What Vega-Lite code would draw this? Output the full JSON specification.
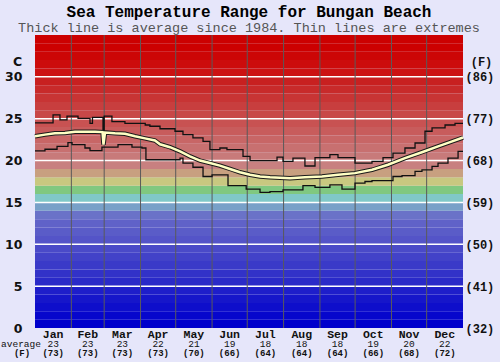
{
  "$schema": "https://vega.github.io/schema/vega-lite/v6.json",
  "width": 428,
  "height": 293,
  "autosize": "none",
  "padding": {"left": 35, "top": 35, "right": 37, "bottom": 34},
  "background": "#e6e6fa",
  "config": {"view": {"stroke": null}},
  "title": {
    "text": "Sea Temperature Range for Bungan Beach",
    "subtitle": "Thick line is average since 1984. Thin lines are extremes",
    "font": "Liberation Mono",
    "fontSize": 16,
    "fontWeight": "bold",
    "color": "#000000",
    "subtitleFont": "Liberation Mono",
    "subtitleFontSize": 13.5,
    "subtitleColor": "#555555",
    "anchor": "middle",
    "offset": 0,
    "subtitlePadding": 1
  },
  "datasets": {
    "bands": [
      {"lo": 0, "hi": 1}, {"lo": 1, "hi": 2}, {"lo": 2, "hi": 3}, {"lo": 3, "hi": 4}, {"lo": 4, "hi": 5},
      {"lo": 5, "hi": 6}, {"lo": 6, "hi": 7}, {"lo": 7, "hi": 8}, {"lo": 8, "hi": 9}, {"lo": 9, "hi": 10},
      {"lo": 10, "hi": 11}, {"lo": 11, "hi": 12}, {"lo": 12, "hi": 13}, {"lo": 13, "hi": 14}, {"lo": 14, "hi": 15},
      {"lo": 15, "hi": 16}, {"lo": 16, "hi": 17}, {"lo": 17, "hi": 18}, {"lo": 18, "hi": 19}, {"lo": 19, "hi": 20},
      {"lo": 20, "hi": 21}, {"lo": 21, "hi": 22}, {"lo": 22, "hi": 23}, {"lo": 23, "hi": 24}, {"lo": 24, "hi": 25},
      {"lo": 25, "hi": 26}, {"lo": 26, "hi": 27}, {"lo": 27, "hi": 28}, {"lo": 28, "hi": 29}, {"lo": 29, "hi": 30},
      {"lo": 30, "hi": 31}, {"lo": 31, "hi": 32}, {"lo": 32, "hi": 33}, {"lo": 33, "hi": 34}, {"lo": 34, "hi": 35}
    ],
    "grid": [{"t": 5}, {"t": 10}, {"t": 15}, {"t": 20}, {"t": 25}, {"t": 30}],
    "edges": [{"day": 31}, {"day": 59}, {"day": 90}, {"day": 120}, {"day": 151}, {"day": 181}, {"day": 212}, {"day": 243}, {"day": 273}, {"day": 304}, {"day": 334}],
    "months": [
      {"m": "Jan", "mid": 15.5, "c": "23", "f": "(73)"},
      {"m": "Feb", "mid": 45, "c": "23", "f": "(73)"},
      {"m": "Mar", "mid": 74.5, "c": "23", "f": "(73)"},
      {"m": "Apr", "mid": 105, "c": "22", "f": "(73)"},
      {"m": "May", "mid": 135.5, "c": "21", "f": "(70)"},
      {"m": "Jun", "mid": 166, "c": "19", "f": "(66)"},
      {"m": "Jul", "mid": 196.5, "c": "18", "f": "(64)"},
      {"m": "Aug", "mid": 227.5, "c": "18", "f": "(64)"},
      {"m": "Sep", "mid": 258, "c": "18", "f": "(64)"},
      {"m": "Oct", "mid": 288.5, "c": "19", "f": "(66)"},
      {"m": "Nov", "mid": 319, "c": "20", "f": "(68)"},
      {"m": "Dec", "mid": 349.5, "c": "22", "f": "(72)"}
    ],
    "foot": [{"a": "average", "b": "(F)"}],
    "ext": [
      {"s": "max", "day": 0, "t": 24.5}, {"s": "max", "day": 15.4, "t": 25.45}, {"s": "max", "day": 21.3, "t": 24.85},
      {"s": "max", "day": 27.3, "t": 25.3}, {"s": "max", "day": 36.7, "t": 25.05}, {"s": "max", "day": 46.9, "t": 24.45},
      {"s": "max", "day": 49, "t": 25.15}, {"s": "max", "day": 58, "t": 23.3}, {"s": "max", "day": 59, "t": 25.3},
      {"s": "max", "day": 65.6, "t": 24.65}, {"s": "max", "day": 76.7, "t": 24.45}, {"s": "max", "day": 94, "t": 24.25},
      {"s": "max", "day": 98, "t": 24.1}, {"s": "max", "day": 106.6, "t": 23.8}, {"s": "max", "day": 119.4, "t": 23.5},
      {"s": "max", "day": 126.2, "t": 23.1}, {"s": "max", "day": 134.7, "t": 22.7}, {"s": "max", "day": 143.3, "t": 22.3},
      {"s": "max", "day": 149.2, "t": 21.3}, {"s": "max", "day": 157.7, "t": 21.5}, {"s": "max", "day": 163.7, "t": 21.3},
      {"s": "max", "day": 177.4, "t": 20.5}, {"s": "max", "day": 183.4, "t": 20.0}, {"s": "max", "day": 206.4, "t": 20.4},
      {"s": "max", "day": 211.5, "t": 19.9}, {"s": "max", "day": 220, "t": 20.3}, {"s": "max", "day": 230.2, "t": 19.35},
      {"s": "max", "day": 238.8, "t": 20.35}, {"s": "max", "day": 251.5, "t": 20.7}, {"s": "max", "day": 258.4, "t": 20.35},
      {"s": "max", "day": 272.9, "t": 19.7}, {"s": "max", "day": 287.4, "t": 19.9}, {"s": "max", "day": 296.8, "t": 20.35},
      {"s": "max", "day": 305.3, "t": 20.9}, {"s": "max", "day": 315.5, "t": 21.5}, {"s": "max", "day": 324.1, "t": 22.1},
      {"s": "max", "day": 332.6, "t": 23.5}, {"s": "max", "day": 338.6, "t": 23.9}, {"s": "max", "day": 349.7, "t": 24.25},
      {"s": "max", "day": 358.2, "t": 24.45}, {"s": "max", "day": 365, "t": 24.45},
      {"s": "min", "day": 0, "t": 21.15}, {"s": "min", "day": 8.5, "t": 21.35}, {"s": "min", "day": 18.8, "t": 21.7},
      {"s": "min", "day": 28.1, "t": 22.15}, {"s": "min", "day": 31.6, "t": 21.9}, {"s": "min", "day": 42.6, "t": 21.5},
      {"s": "min", "day": 46.9, "t": 21.2}, {"s": "min", "day": 57.1, "t": 21.6}, {"s": "min", "day": 70.8, "t": 21.9},
      {"s": "min", "day": 82.7, "t": 21.6}, {"s": "min", "day": 91.2, "t": 21.5}, {"s": "min", "day": 94.6, "t": 20.1},
      {"s": "min", "day": 123.7, "t": 20.3}, {"s": "min", "day": 126.2, "t": 19.7}, {"s": "min", "day": 134.7, "t": 19.2},
      {"s": "min", "day": 143.3, "t": 18.1}, {"s": "min", "day": 151, "t": 18.3}, {"s": "min", "day": 164.6, "t": 17.0},
      {"s": "min", "day": 180.1, "t": 16.6}, {"s": "min", "day": 191.9, "t": 16.2}, {"s": "min", "day": 200.4, "t": 16.3},
      {"s": "min", "day": 211.5, "t": 16.5}, {"s": "min", "day": 228.5, "t": 17.0}, {"s": "min", "day": 238.8, "t": 16.8},
      {"s": "min", "day": 251.5, "t": 17.1}, {"s": "min", "day": 261.8, "t": 16.6}, {"s": "min", "day": 272.9, "t": 17.3},
      {"s": "min", "day": 281.4, "t": 17.5}, {"s": "min", "day": 287.4, "t": 17.6}, {"s": "min", "day": 305.3, "t": 18.1},
      {"s": "min", "day": 313, "t": 18.2}, {"s": "min", "day": 324.1, "t": 18.7}, {"s": "min", "day": 330, "t": 18.9},
      {"s": "min", "day": 338.6, "t": 19.3}, {"s": "min", "day": 343.7, "t": 19.7}, {"s": "min", "day": 352.2, "t": 20.3},
      {"s": "min", "day": 360.8, "t": 21.1}, {"s": "min", "day": 365, "t": 21.1}
    ],
    "avg": [
      {"day": 0, "t": 22.9}, {"day": 8.5, "t": 23.1}, {"day": 17, "t": 23.25}, {"day": 25.6, "t": 23.3},
      {"day": 34.1, "t": 23.45}, {"day": 42.6, "t": 23.45}, {"day": 51.2, "t": 23.45}, {"day": 57.6, "t": 23.4},
      {"day": 58.4, "t": 21.9}, {"day": 59.7, "t": 23.35}, {"day": 68.2, "t": 23.25}, {"day": 76.7, "t": 23.2},
      {"day": 85.3, "t": 22.9}, {"day": 93.8, "t": 22.65}, {"day": 102.3, "t": 22.4}, {"day": 106.6, "t": 21.95},
      {"day": 115.1, "t": 21.6}, {"day": 123.7, "t": 21.1}, {"day": 132.2, "t": 20.5}, {"day": 140.7, "t": 20.0},
      {"day": 149.2, "t": 19.7}, {"day": 157.7, "t": 19.4}, {"day": 166.3, "t": 19.0}, {"day": 174.8, "t": 18.6},
      {"day": 183.4, "t": 18.3}, {"day": 191.9, "t": 18.1}, {"day": 200.4, "t": 18.0}, {"day": 217.5, "t": 17.9},
      {"day": 230.2, "t": 18.0}, {"day": 244.7, "t": 18.1}, {"day": 258.4, "t": 18.3}, {"day": 272.9, "t": 18.5},
      {"day": 287.4, "t": 18.9}, {"day": 301, "t": 19.5}, {"day": 315.5, "t": 20.3}, {"day": 330, "t": 21.0},
      {"day": 343.7, "t": 21.7}, {"day": 354, "t": 22.2}, {"day": 365, "t": 22.75}
    ]
  },
  "layer": [
    {
      "data": {"name": "bands"},
      "mark": {"type": "rect"},
      "encoding": {
        "x": {"datum": 0, "type": "quantitative", "scale": {"domain": [0, 365], "nice": false, "zero": false}, "axis": null},
        "x2": {"datum": 365},
        "y": {
          "field": "lo", "type": "quantitative",
          "scale": {"domain": [0, 35], "nice": false, "zero": false},
          "axis": {
            "orient": "right", "values": [0, 5, 10, 15, 20, 25, 30],
            "labelExpr": "'(' + round(datum.value * 9 / 5 + 32) + ')'",
            "grid": false, "ticks": false, "tickSize": 0, "domain": false,
            "labelPadding": 2, "labelFont": "Liberation Mono", "labelFontSize": 12, "labelFontWeight": "bold", "labelColor": "#111111",
            "title": "(F)", "titleAngle": 0, "titleX": 18, "titleY": 30, "titleAlign": "center", "titleBaseline": "alphabetic",
            "titleFont": "Liberation Mono", "titleFontSize": 12, "titleFontWeight": "bold", "titleColor": "#111111"
          }
        },
        "y2": {"field": "hi"},
        "color": {
          "field": "lo", "type": "ordinal", "legend": null,
          "scale": {
            "domain": [0, 1, 2, 3, 4, 5, 6, 7, 8, 9, 10, 11, 12, 13, 14, 15, 16, 17, 18, 19, 20, 21, 22, 23, 24, 25, 26, 27, 28, 29, 30, 31, 32, 33, 34],
            "range": ["#0000cc", "#0606cc", "#0e0ecb", "#1616ca", "#1e1eca", "#2a2ac8", "#3232c8", "#3a3ac8", "#4242c8", "#4a4ac8", "#5454c8", "#5a5cc8", "#6062c8", "#6a72c8", "#78a0c8", "#80c8c8", "#80c880", "#c8c880", "#c8a080", "#c88080", "#c87a7a", "#c87070", "#c86666", "#c85c5c", "#c85252", "#c84848", "#c83e3e", "#c83434", "#c82a2a", "#c82020", "#cc1212", "#cc0c0c", "#cc0606", "#cc0000", "#cc0000"]
          }
        }
      }
    },
    {
      "layer": [
        {
          "data": {"name": "grid"},
          "mark": {"type": "rule", "color": "#ffffff", "strokeWidth": 1.5},
          "encoding": {
            "y": {
              "field": "t", "type": "quantitative", "title": "C",
              "scale": {"domain": [0, 35], "nice": false, "zero": false},
              "axis": {
                "orient": "left", "values": [0, 5, 10, 15, 20, 25, 30],
                "grid": false, "ticks": false, "tickSize": 0, "domain": false,
                "labelPadding": 13, "labelFont": "DejaVu Sans", "labelFontSize": 12.5, "labelFontWeight": "bold", "labelColor": "#111111",
                "titleAngle": 0, "titleX": -18, "titleY": 30, "titleAlign": "center", "titleBaseline": "alphabetic",
                "titleFont": "DejaVu Sans", "titleFontSize": 12.5, "titleFontWeight": "bold", "titleColor": "#111111"
              }
            }
          }
        },
        {
          "data": {"name": "edges"},
          "mark": {"type": "rule", "color": "#5a5a5a", "strokeWidth": 1},
          "encoding": {
            "x": {"field": "day", "type": "quantitative", "axis": null}
          }
        },
        {
          "data": {"name": "ext"},
          "mark": {"type": "line", "interpolate": "step-after", "color": "#111111", "strokeWidth": 1.3},
          "encoding": {
            "x": {"field": "day", "type": "quantitative", "axis": null},
            "y": {"field": "t", "type": "quantitative", "title": "C"},
            "detail": {"field": "s"}
          }
        },
        {
          "data": {"name": "avg"},
          "mark": {"type": "line", "color": "#1a1a1a", "strokeWidth": 4.5},
          "encoding": {
            "x": {"field": "day", "type": "quantitative", "axis": null},
            "y": {"field": "t", "type": "quantitative", "title": "C"}
          }
        },
        {
          "data": {"name": "avg"},
          "mark": {"type": "line", "color": "#ffffc4", "strokeWidth": 2.5},
          "encoding": {
            "x": {"field": "day", "type": "quantitative", "axis": null},
            "y": {"field": "t", "type": "quantitative", "title": "C"}
          }
        },
        {
          "data": {"name": "months"},
          "mark": {"type": "text", "font": "Liberation Mono", "fontSize": 11.5, "fontWeight": "bold", "color": "#111111", "baseline": "alphabetic", "dy": 9.5},
          "encoding": {
            "x": {"field": "mid", "type": "quantitative", "axis": null},
            "y": {"datum": 0},
            "text": {"field": "m"}
          }
        },
        {
          "data": {"name": "months"},
          "mark": {"type": "text", "font": "Liberation Mono", "fontSize": 9.5, "color": "#111111", "baseline": "alphabetic", "dy": 18.5},
          "encoding": {
            "x": {"field": "mid", "type": "quantitative", "axis": null},
            "y": {"datum": 0},
            "text": {"field": "c"}
          }
        },
        {
          "data": {"name": "months"},
          "mark": {"type": "text", "font": "Liberation Mono", "fontSize": 9, "fontWeight": "bold", "color": "#111111", "baseline": "alphabetic", "dy": 28},
          "encoding": {
            "x": {"field": "mid", "type": "quantitative", "axis": null},
            "y": {"datum": 0},
            "text": {"field": "f"}
          }
        },
        {
          "data": {"name": "foot"},
          "mark": {"type": "text", "font": "Liberation Mono", "fontSize": 9.5, "color": "#111111", "baseline": "alphabetic", "align": "center", "dx": -14, "dy": 18.5},
          "encoding": {
            "x": {"datum": 0},
            "y": {"datum": 0},
            "text": {"field": "a"}
          }
        },
        {
          "data": {"name": "foot"},
          "mark": {"type": "text", "font": "Liberation Mono", "fontSize": 9, "fontWeight": "bold", "color": "#111111", "baseline": "alphabetic", "align": "center", "dx": -13, "dy": 28},
          "encoding": {
            "x": {"datum": 0},
            "y": {"datum": 0},
            "text": {"field": "b"}
          }
        }
      ]
    }
  ],
  "resolve": {"scale": {"y": "independent"}, "axis": {"y": "independent"}}
}
